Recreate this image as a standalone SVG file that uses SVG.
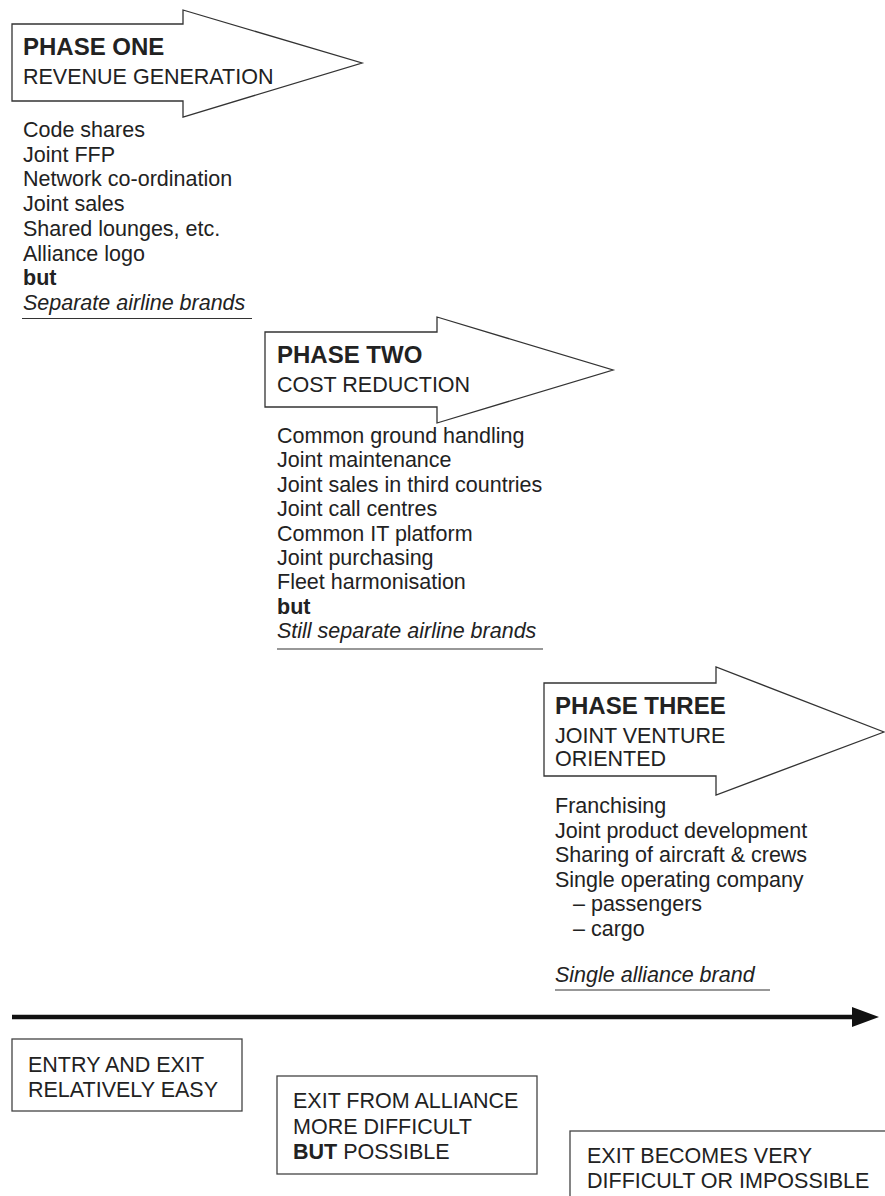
<svg xmlns="http://www.w3.org/2000/svg" width="885" height="1196" viewBox="0 0 885 1196">
<style>
text{font-family:"Liberation Sans",Arial,Helvetica,sans-serif;fill:#222;font-size:21.5px}
.h{font-weight:bold;font-size:24px}
.b{font-weight:bold}
.i{font-style:italic}
.arrow{fill:#fff;stroke:#333;stroke-width:1.3}
.box{fill:#fff;stroke:#444;stroke-width:1.3}
.ul{stroke:#333;stroke-width:1.2}
</style>
<rect width="885" height="1196" fill="#fff"/>
<g id="phase1">
<polygon class="arrow" points="12,24 183,24 183,10 362,63 183,117 183,101 12,101"/>
<text class="h" x="23" y="55">PHASE ONE</text>
<text x="23" y="84">REVENUE GENERATION</text>
<text x="23" y="137">Code shares</text>
<text x="23" y="161.7">Joint FFP</text>
<text x="23" y="186.4">Network co-ordination</text>
<text x="23" y="211.1">Joint sales</text>
<text x="23" y="235.8">Shared lounges, etc.</text>
<text x="23" y="260.5">Alliance logo</text>
<text class="b" x="23" y="285.2">but</text>
<text class="i" x="23" y="310">Separate airline brands</text>
<line class="ul" x1="22" y1="318.5" x2="252" y2="318.5"/>
</g>
<g id="phase2">
<polygon class="arrow" points="265,332 437,332 437,317 613,370 437,423 437,407 265,407"/>
<text class="h" x="277" y="363">PHASE TWO</text>
<text x="277" y="392">COST REDUCTION</text>
<text x="277" y="443">Common ground handling</text>
<text x="277" y="467.4">Joint maintenance</text>
<text x="277" y="491.8">Joint sales in third countries</text>
<text x="277" y="516.2">Joint call centres</text>
<text x="277" y="540.6">Common IT platform</text>
<text x="277" y="565">Joint purchasing</text>
<text x="277" y="589.4">Fleet harmonisation</text>
<text class="b" x="277" y="613.8">but</text>
<text class="i" x="277" y="638.2">Still separate airline brands</text>
<line class="ul" x1="277" y1="649" x2="543" y2="649"/>
</g>
<g id="phase3">
<polygon class="arrow" points="544,683 716,683 716,667 884,732 716,795 716,776 544,776"/>
<text class="h" x="555" y="714">PHASE THREE</text>
<text x="555" y="743">JOINT VENTURE</text>
<text x="555" y="766">ORIENTED</text>
<text x="555" y="813">Franchising</text>
<text x="555" y="837.5">Joint product development</text>
<text x="555" y="862">Sharing of aircraft &amp; crews</text>
<text x="555" y="886.5">Single operating company</text>
<text x="573" y="911">– passengers</text>
<text x="573" y="935.5">– cargo</text>
<text class="i" x="555" y="982">Single alliance brand</text>
<line class="ul" x1="555" y1="990" x2="770" y2="990"/>
</g>
<g id="connectors">
<line x1="12" y1="1017" x2="858" y2="1017" stroke="#111" stroke-width="4.5"/>
<polygon points="852,1007 879,1017 852,1027" fill="#111"/>
</g>
<g id="box1">
<rect class="box" x="12" y="1039" width="230" height="72"/>
<text x="28" y="1072">ENTRY AND EXIT</text>
<text x="28" y="1097">RELATIVELY EASY</text>
</g>
<g id="box2">
<rect class="box" x="277" y="1076" width="260" height="98"/>
<text x="293" y="1108">EXIT FROM ALLIANCE</text>
<text x="293" y="1134">MORE DIFFICULT</text>
<text x="293" y="1159"><tspan class="b">BUT</tspan> POSSIBLE</text>
</g>
<g id="box3">
<rect class="box" x="570" y="1131" width="330" height="80"/>
<text x="587" y="1163">EXIT BECOMES VERY</text>
<text x="587" y="1188">DIFFICULT OR IMPOSSIBLE</text>
</g>
</svg>
